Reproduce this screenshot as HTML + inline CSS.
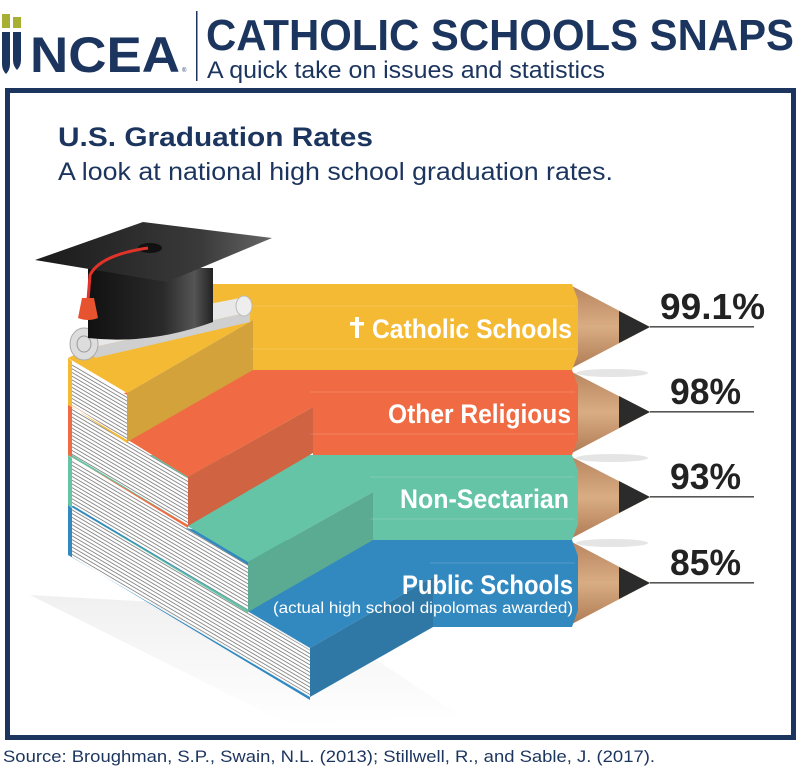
<!DOCTYPE html>
<html><head><meta charset="utf-8"><style>
html,body{margin:0;padding:0;background:#fff;}
svg{display:block;}
text{font-family:"Liberation Sans",sans-serif;}
</style></head><body>
<svg width="800" height="769" viewBox="0 0 800 769" xmlns="http://www.w3.org/2000/svg">
<defs>
<pattern id="pg" width="6" height="3.2" patternUnits="userSpaceOnUse" patternTransform="rotate(30.5)">
<rect width="6" height="3.2" fill="#fff"/><rect y="2.4" width="6" height="0.8" fill="#777"/>
</pattern>
<linearGradient id="wood" x1="0" y1="0" x2="0" y2="1">
<stop offset="0" stop-color="#b98660"/><stop offset="0.5" stop-color="#d9ad84"/><stop offset="1" stop-color="#b07c55"/>
</linearGradient>
<linearGradient id="cap" x1="0" y1="0" x2="1" y2="0">
<stop offset="0" stop-color="#111"/><stop offset="0.6" stop-color="#2a2a2a"/><stop offset="0.85" stop-color="#555"/><stop offset="1" stop-color="#222"/>
</linearGradient>
<linearGradient id="board" x1="0" y1="0" x2="1" y2="0">
<stop offset="0" stop-color="#1a1a1a"/><stop offset="0.7" stop-color="#3a3a3a"/><stop offset="1" stop-color="#666"/>
</linearGradient>
<linearGradient id="sh" x1="0" y1="0" x2="0" y2="1">
<stop offset="0" stop-color="#e6e6e6"/><stop offset="1" stop-color="#fff"/>
</linearGradient>
</defs>

<!-- header -->
<rect x="2" y="14" width="8" height="14" fill="#a8b034"/>
<rect x="13" y="17" width="8" height="11" fill="#a8b034"/>
<path d="M2 32 h8 v32 q0 6 -4 10 q-4 -4 -4 -10z" fill="#1c355e"/>
<path d="M13 32 h8 v28 q0 6 -4 10 q-4 -4 -4 -10z" fill="#1c355e"/>
<text x="30" y="72" font-size="50" font-weight="bold" fill="#1c355e" textLength="150" lengthAdjust="spacingAndGlyphs">NCEA</text>
<text x="182" y="72" font-size="6" fill="#1c355e">®</text>
<rect x="196" y="11" width="1.5" height="70" fill="#1c355e"/>
<text x="206" y="50" font-size="44" font-weight="bold" fill="#1c355e" textLength="588" lengthAdjust="spacingAndGlyphs">CATHOLIC SCHOOLS SNAPS</text>
<text x="207" y="78" font-size="24" fill="#1c355e" textLength="398" lengthAdjust="spacingAndGlyphs">A quick take on issues and statistics</text>

<!-- frame -->
<rect x="7.5" y="90.5" width="786" height="647" fill="none" stroke="#1c355e" stroke-width="5"/>

<text x="58" y="146" font-size="27" font-weight="bold" fill="#1c355e" textLength="315" lengthAdjust="spacingAndGlyphs">U.S. Graduation Rates</text>
<text x="58" y="180" font-size="25" fill="#1c355e" textLength="555" lengthAdjust="spacingAndGlyphs">A look at national high school graduation rates.</text>

<!-- shadow -->
<polygon points="30,595 290,725 460,715 300,610" fill="url(#sh)" opacity="0.6"/>

<!-- pencil shadows -->
<ellipse cx="612" cy="373" rx="36" ry="4" fill="#ccc" opacity="0.5"/>
<ellipse cx="612" cy="458" rx="36" ry="4" fill="#ccc" opacity="0.5"/>
<ellipse cx="612" cy="543" rx="36" ry="4" fill="#ccc" opacity="0.5"/>

<!-- pencil tips -->
<g>
<polygon points="572,286 650,327 572,368" fill="url(#wood)"/>
<polygon points="619,311 650,327 619,343" fill="#2b2b2b"/>
<polygon points="572,372 650,412 572,453" fill="url(#wood)"/>
<polygon points="619,396 650,412 619,428" fill="#2b2b2b"/>
<polygon points="572,457 650,497 572,538" fill="url(#wood)"/>
<polygon points="619,481 650,497 619,513" fill="#2b2b2b"/>
<polygon points="572,542 650,583 572,624" fill="url(#wood)"/>
<polygon points="619,567 650,583 619,599" fill="#2b2b2b"/>
</g>

<!-- BLUE -->
<polygon points="68,505 310,648 433,577 433,627 572,627 578,610 578,556 572,540 248,540" fill="#3289c0"/>
<polygon points="310,648 433,577 433,627 310,697" fill="#2f78a6"/>
<polygon points="72,508 310,650 310,695 72,555" fill="url(#pg)"/>
<polygon points="68,505 72,508 72,557 310,700 310,697 68,555" fill="#3289c0"/>

<!-- GREEN -->
<polygon points="68,455 248,562 373,492 373,540 572,540 578,524 578,471 572,455 313,455" fill="#65c4a6"/>
<polygon points="248,562 373,492 373,540 248,612" fill="#5aab92"/>
<polygon points="72,460 248,565 248,610 72,505" fill="url(#pg)"/>
<polygon points="68,455 72,458 72,507 248,613 248,610 68,505" fill="#65c4a6"/>

<!-- ORANGE -->
<polygon points="68,403 188,477 313,407 313,455 572,455 578,439 578,386 572,370 253,370" fill="#f06b43"/>
<polygon points="188,477 313,407 313,453 188,526" fill="#d06341"/>
<polygon points="72,408 188,478 188,525 72,455" fill="url(#pg)"/>
<polygon points="68,403 72,406 72,457 188,528 188,525 68,455" fill="#f06b43"/>

<!-- YELLOW -->
<polygon points="68,358 127,393 253,320 253,370 572,370 578,354 578,300 572,284 213,284" fill="#f5ba33"/>
<polygon points="127,393 253,320 253,370 127,442" fill="#d3a23a"/>
<polygon points="72,362 127,395 127,440 72,405" fill="url(#pg)"/>
<polygon points="68,358 72,361 72,407 127,443 127,440 68,405" fill="#f5ba33"/>

<!-- band stripes -->
<g fill="#fff" opacity="0.08">
<rect x="250" y="305" width="325" height="2"/><rect x="250" y="348" width="325" height="2"/>
<rect x="310" y="391" width="265" height="2"/><rect x="310" y="433" width="265" height="2"/>
<rect x="370" y="476" width="205" height="2"/><rect x="370" y="518" width="205" height="2"/>
<rect x="430" y="562" width="145" height="2"/>
</g>

<!-- diploma -->
<polygon points="75,330 240,298 250,312 90,348" fill="#e8e8e8"/>
<path d="M90,348 L250,312 L250,322 L95,358 Z" fill="#cfcfcf"/>
<ellipse cx="84" cy="344" rx="14" ry="16" fill="#ddd" stroke="#aaa"/>
<ellipse cx="84" cy="344" rx="7" ry="8" fill="none" stroke="#999"/>
<ellipse cx="244" cy="306" rx="8" ry="10" fill="#eee" stroke="#bbb"/>

<!-- cap -->
<path d="M88,268 L213,268 L213,322 Q150,345 88,338 Z" fill="url(#cap)"/>
<polygon points="35,260 143,222 272,238 167,282" fill="url(#board)"/>
<ellipse cx="150" cy="248" rx="12" ry="5" fill="#111"/>
<path d="M148,248 Q100,255 90,275 L88,300" stroke="#e0332a" stroke-width="3" fill="none"/>
<path d="M82,298 h12 l4,20 q-10 4 -20 0 z" fill="#e8532f"/>

<!-- band labels -->
<g fill="#fff" font-weight="bold">
<rect x="355" y="317" width="4" height="21"/><rect x="350" y="322" width="14" height="3.5"/>
<text x="372" y="338" font-size="27" textLength="200" lengthAdjust="spacingAndGlyphs">Catholic Schools</text>
<text x="388" y="423" font-size="27" textLength="183" lengthAdjust="spacingAndGlyphs">Other Religious</text>
<text x="400" y="508" font-size="27" textLength="169" lengthAdjust="spacingAndGlyphs">Non-Sectarian</text>
<text x="402" y="594" font-size="27" textLength="171" lengthAdjust="spacingAndGlyphs">Public Schools</text>
</g>
<text x="273" y="613" font-size="16" fill="#fff" textLength="300" lengthAdjust="spacingAndGlyphs">(actual high school dipolomas awarded)</text>

<!-- percentages -->
<g fill="#222" font-weight="bold">
<text x="660" y="319" font-size="36" textLength="105" lengthAdjust="spacingAndGlyphs">99.1%</text>
<text x="670" y="404" font-size="36" textLength="71" lengthAdjust="spacingAndGlyphs">98%</text>
<text x="670" y="489" font-size="36" textLength="71" lengthAdjust="spacingAndGlyphs">93%</text>
<text x="670" y="575" font-size="36" textLength="71" lengthAdjust="spacingAndGlyphs">85%</text>
</g>
<g fill="#555">
<rect x="650" y="326" width="104" height="1.6"/>
<rect x="650" y="411" width="104" height="1.6"/>
<rect x="650" y="496" width="104" height="1.6"/>
<rect x="650" y="582" width="104" height="1.6"/>
</g>

<text x="3" y="762" font-size="17" fill="#1c355e" textLength="652" lengthAdjust="spacingAndGlyphs">Source:  Broughman, S.P., Swain, N.L. (2013); Stillwell, R., and Sable, J. (2017).</text>
</svg>
</body></html>
